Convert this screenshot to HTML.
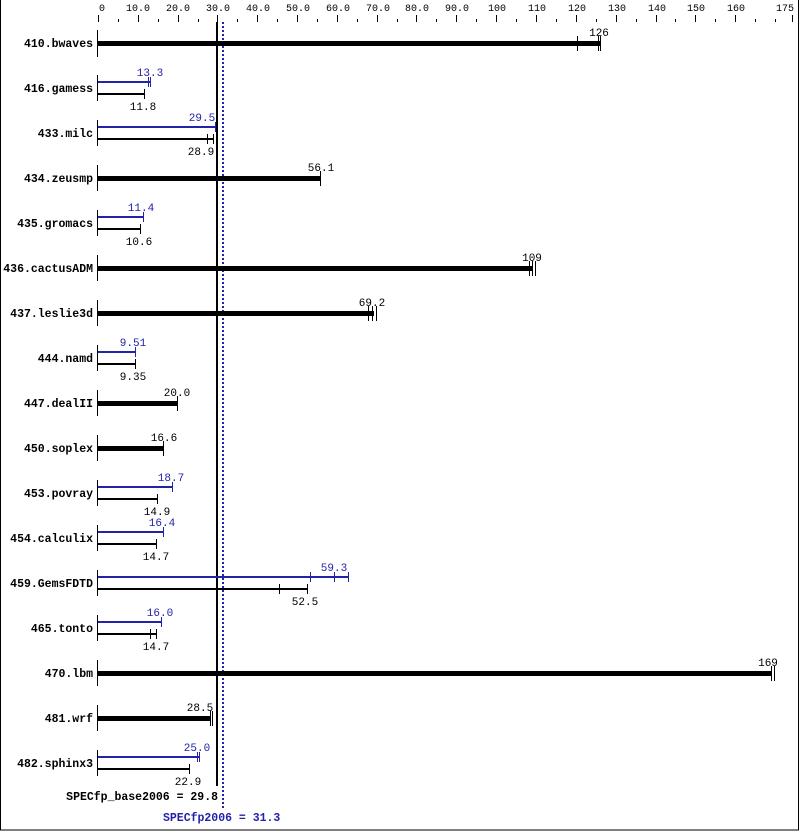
<!DOCTYPE html>
<html><head><style>
body{margin:0;background:#fff}
svg{display:block}
text{font-family:"Liberation Mono","DejaVu Sans Mono",monospace}
.t{font-size:10px;fill:#000}
.l{font-size:11.5px;font-weight:bold;fill:#000}
.v{font-size:11px;fill:#000}
.b{font-size:11px;fill:#2222aa}
.s{font-size:11.5px;font-weight:bold}
</style></head><body>
<svg width="799" height="831" xmlns="http://www.w3.org/2000/svg">
<rect x="0.5" y="-1" width="798" height="831" fill="#fff" stroke="#000"/>
<g stroke="#000" stroke-width="1">
<line x1="98.5" y1="15" x2="98.5" y2="22"/><line x1="118.5" y1="19" x2="118.5" y2="22"/>
<line x1="138.5" y1="15" x2="138.5" y2="22"/><line x1="158.5" y1="19" x2="158.5" y2="22"/>
<line x1="178.5" y1="15" x2="178.5" y2="22"/><line x1="198.5" y1="19" x2="198.5" y2="22"/>
<line x1="217.5" y1="15" x2="217.5" y2="22"/><line x1="237.5" y1="19" x2="237.5" y2="22"/>
<line x1="257.5" y1="15" x2="257.5" y2="22"/><line x1="277.5" y1="19" x2="277.5" y2="22"/>
<line x1="297.5" y1="15" x2="297.5" y2="22"/><line x1="317.5" y1="19" x2="317.5" y2="22"/>
<line x1="337.5" y1="15" x2="337.5" y2="22"/><line x1="357.5" y1="19" x2="357.5" y2="22"/>
<line x1="377.5" y1="15" x2="377.5" y2="22"/><line x1="397.5" y1="19" x2="397.5" y2="22"/>
<line x1="416.5" y1="15" x2="416.5" y2="22"/><line x1="436.5" y1="19" x2="436.5" y2="22"/>
<line x1="456.5" y1="15" x2="456.5" y2="22"/><line x1="476.5" y1="19" x2="476.5" y2="22"/>
<line x1="496.5" y1="15" x2="496.5" y2="22"/><line x1="516.5" y1="19" x2="516.5" y2="22"/>
<line x1="536.5" y1="15" x2="536.5" y2="22"/><line x1="556.5" y1="19" x2="556.5" y2="22"/>
<line x1="576.5" y1="15" x2="576.5" y2="22"/><line x1="596.5" y1="19" x2="596.5" y2="22"/>
<line x1="616.5" y1="15" x2="616.5" y2="22"/><line x1="636.5" y1="19" x2="636.5" y2="22"/>
<line x1="656.5" y1="15" x2="656.5" y2="22"/><line x1="675.5" y1="19" x2="675.5" y2="22"/>
<line x1="695.5" y1="15" x2="695.5" y2="22"/><line x1="715.5" y1="19" x2="715.5" y2="22"/>
<line x1="735.5" y1="15" x2="735.5" y2="22"/><line x1="755.5" y1="19" x2="755.5" y2="22"/>
<line x1="775.5" y1="19" x2="775.5" y2="22"/><line x1="792.5" y1="15" x2="792.5" y2="22"/>
</g>
<g class="t" text-anchor="middle">
<text x="102" y="11">0</text><text x="138" y="11">10.0</text><text x="178" y="11">20.0</text>
<text x="218" y="11">30.0</text><text x="258" y="11">40.0</text><text x="298" y="11">50.0</text>
<text x="338" y="11">60.0</text><text x="378" y="11">70.0</text><text x="417" y="11">80.0</text>
<text x="457" y="11">90.0</text><text x="497" y="11">100</text><text x="537" y="11">110</text>
<text x="577" y="11">120</text><text x="617" y="11">130</text><text x="657" y="11">140</text>
<text x="696" y="11">150</text><text x="736" y="11">160</text><text x="785" y="11">175</text>
</g>
<!-- reference lines -->
<line x1="217" y1="22" x2="217" y2="786" stroke="#000" stroke-width="2"/>
<line x1="223" y1="22" x2="223" y2="808" stroke="#2222aa" stroke-width="2" stroke-dasharray="2,2"/>
<g class="l" text-anchor="end">
<text x="93" y="47">410.bwaves</text><text x="93" y="92">416.gamess</text><text x="93" y="137">433.milc</text>
<text x="93" y="182">434.zeusmp</text><text x="93" y="227">435.gromacs</text><text x="93" y="272">436.cactusADM</text>
<text x="93" y="317">437.leslie3d</text><text x="93" y="362">444.namd</text><text x="93" y="407">447.dealII</text>
<text x="93" y="452">450.soplex</text><text x="93" y="497">453.povray</text><text x="93" y="542">454.calculix</text>
<text x="93" y="587">459.GemsFDTD</text><text x="93" y="632">465.tonto</text><text x="93" y="677">470.lbm</text>
<text x="93" y="722">481.wrf</text><text x="93" y="767">482.sphinx3</text>
</g>
<g stroke="#000" stroke-width="1">
<line x1="97.5" y1="30" x2="97.5" y2="57"/><line x1="97.5" y1="75" x2="97.5" y2="101"/>
<line x1="97.5" y1="120" x2="97.5" y2="146"/><line x1="97.5" y1="165" x2="97.5" y2="191"/>
<line x1="97.5" y1="210" x2="97.5" y2="236"/><line x1="97.5" y1="255" x2="97.5" y2="281"/>
<line x1="97.5" y1="300" x2="97.5" y2="326"/><line x1="97.5" y1="345" x2="97.5" y2="371"/>
<line x1="97.5" y1="390" x2="97.5" y2="416"/><line x1="97.5" y1="435" x2="97.5" y2="461"/>
<line x1="97.5" y1="480" x2="97.5" y2="506"/><line x1="97.5" y1="525" x2="97.5" y2="551"/>
<line x1="97.5" y1="570" x2="97.5" y2="596"/><line x1="97.5" y1="615" x2="97.5" y2="641"/>
<line x1="97.5" y1="660" x2="97.5" y2="686"/><line x1="97.5" y1="705" x2="97.5" y2="731"/>
<line x1="97.5" y1="750" x2="97.5" y2="776"/>
</g>
<!-- single bars -->
<g fill="#000">
<rect x="98" y="41" width="502" height="5"/>
<rect x="98" y="176" width="223" height="5"/>
<rect x="98" y="266" width="434" height="5"/>
<rect x="98" y="311" width="276" height="5"/>
<rect x="98" y="401" width="80" height="5"/>
<rect x="98" y="446" width="66" height="5"/>
<rect x="98" y="671" width="673" height="5"/>
<rect x="98" y="716" width="113" height="5"/>
</g>
<g stroke="#000" stroke-width="1">
<line x1="577.5" y1="36" x2="577.5" y2="51"/><line x1="598.5" y1="36" x2="598.5" y2="51"/><line x1="600.5" y1="36" x2="600.5" y2="51"/>
<line x1="320.5" y1="171" x2="320.5" y2="186"/>
<line x1="529.5" y1="261" x2="529.5" y2="276"/><line x1="532.5" y1="261" x2="532.5" y2="276"/><line x1="535.5" y1="261" x2="535.5" y2="276"/>
<line x1="368.5" y1="306" x2="368.5" y2="321"/><line x1="372.5" y1="306" x2="372.5" y2="321"/><line x1="376.5" y1="306" x2="376.5" y2="321"/>
<line x1="177.5" y1="396" x2="177.5" y2="411"/>
<line x1="163.5" y1="441" x2="163.5" y2="456"/>
<line x1="771.5" y1="666" x2="771.5" y2="681"/><line x1="774.5" y1="666" x2="774.5" y2="681"/>
<line x1="210.5" y1="711" x2="210.5" y2="726"/><line x1="212.5" y1="711" x2="212.5" y2="726"/>
</g>
<g class="v" text-anchor="middle">
<text x="599" y="36">126</text><text x="321" y="171">56.1</text><text x="532" y="261">109</text>
<text x="372" y="306">69.2</text><text x="177" y="396">20.0</text><text x="164" y="441">16.6</text>
<text x="768" y="666">169</text><text x="200" y="711">28.5</text>
</g>
<!-- pairs: peak blue -->
<g fill="#2222aa">
<rect x="98" y="81" width="53" height="2"/><rect x="98" y="126" width="118" height="2"/>
<rect x="98" y="216" width="46" height="2"/><rect x="98" y="351" width="38" height="2"/>
<rect x="98" y="486" width="75" height="2"/><rect x="98" y="531" width="65" height="2"/>
<rect x="98" y="576" width="251" height="2"/><rect x="98" y="621" width="64" height="2"/>
<rect x="98" y="756" width="101" height="2"/>
</g>
<g stroke="#2222aa" stroke-width="1">
<line x1="148.5" y1="77" x2="148.5" y2="87"/><line x1="150.5" y1="77" x2="150.5" y2="87"/>
<line x1="215.5" y1="122" x2="215.5" y2="132"/>
<line x1="143.5" y1="212" x2="143.5" y2="222"/>
<line x1="135.5" y1="347" x2="135.5" y2="357"/>
<line x1="172.5" y1="482" x2="172.5" y2="492"/>
<line x1="163.5" y1="527" x2="163.5" y2="537"/>
<line x1="310.5" y1="572" x2="310.5" y2="582"/><line x1="334.5" y1="572" x2="334.5" y2="582"/><line x1="348.5" y1="572" x2="348.5" y2="582"/>
<line x1="161.5" y1="617" x2="161.5" y2="627"/>
<line x1="197.5" y1="752" x2="197.5" y2="762"/><line x1="199.5" y1="752" x2="199.5" y2="762"/>
</g>
<g class="b" text-anchor="middle">
<text x="150" y="76">13.3</text><text x="202" y="121">29.5</text><text x="141" y="211">11.4</text>
<text x="133" y="346">9.51</text><text x="171" y="481">18.7</text><text x="162" y="526">16.4</text>
<text x="334" y="571">59.3</text><text x="160" y="616">16.0</text><text x="197" y="751">25.0</text>
</g>
<!-- base black -->
<g fill="#000">
<rect x="98" y="93" width="47" height="2"/><rect x="98" y="138" width="115" height="2"/>
<rect x="98" y="228" width="42" height="2"/><rect x="98" y="363" width="37" height="2"/>
<rect x="98" y="498" width="59" height="2"/><rect x="98" y="543" width="58" height="2"/>
<rect x="98" y="588" width="209" height="2"/><rect x="98" y="633" width="58" height="2"/>
<rect x="98" y="768" width="91" height="2"/>
</g>
<g stroke="#000" stroke-width="1">
<line x1="144.5" y1="89" x2="144.5" y2="99"/>
<line x1="207.5" y1="134" x2="207.5" y2="144"/><line x1="213.5" y1="134" x2="213.5" y2="144"/>
<line x1="140.5" y1="224" x2="140.5" y2="234"/>
<line x1="135.5" y1="359" x2="135.5" y2="369"/>
<line x1="157.5" y1="494" x2="157.5" y2="504"/>
<line x1="156.5" y1="539" x2="156.5" y2="549"/>
<line x1="279.5" y1="584" x2="279.5" y2="594"/><line x1="307.5" y1="584" x2="307.5" y2="594"/>
<line x1="150.5" y1="629" x2="150.5" y2="639"/><line x1="156.5" y1="629" x2="156.5" y2="639"/>
<line x1="189.5" y1="764" x2="189.5" y2="774"/>
</g>
<g class="v" text-anchor="middle">
<text x="143" y="110">11.8</text><text x="201" y="155">28.9</text><text x="139" y="245">10.6</text>
<text x="133" y="380">9.35</text><text x="157" y="515">14.9</text><text x="156" y="560">14.7</text>
<text x="305" y="605">52.5</text><text x="156" y="650">14.7</text><text x="188" y="785">22.9</text>
</g>
<text class="s" x="218" y="800" text-anchor="end" fill="#000">SPECfp_base2006 = 29.8</text>
<text class="s" x="163" y="821" fill="#2222aa">SPECfp2006 = 31.3</text>
</svg>
</body></html>
